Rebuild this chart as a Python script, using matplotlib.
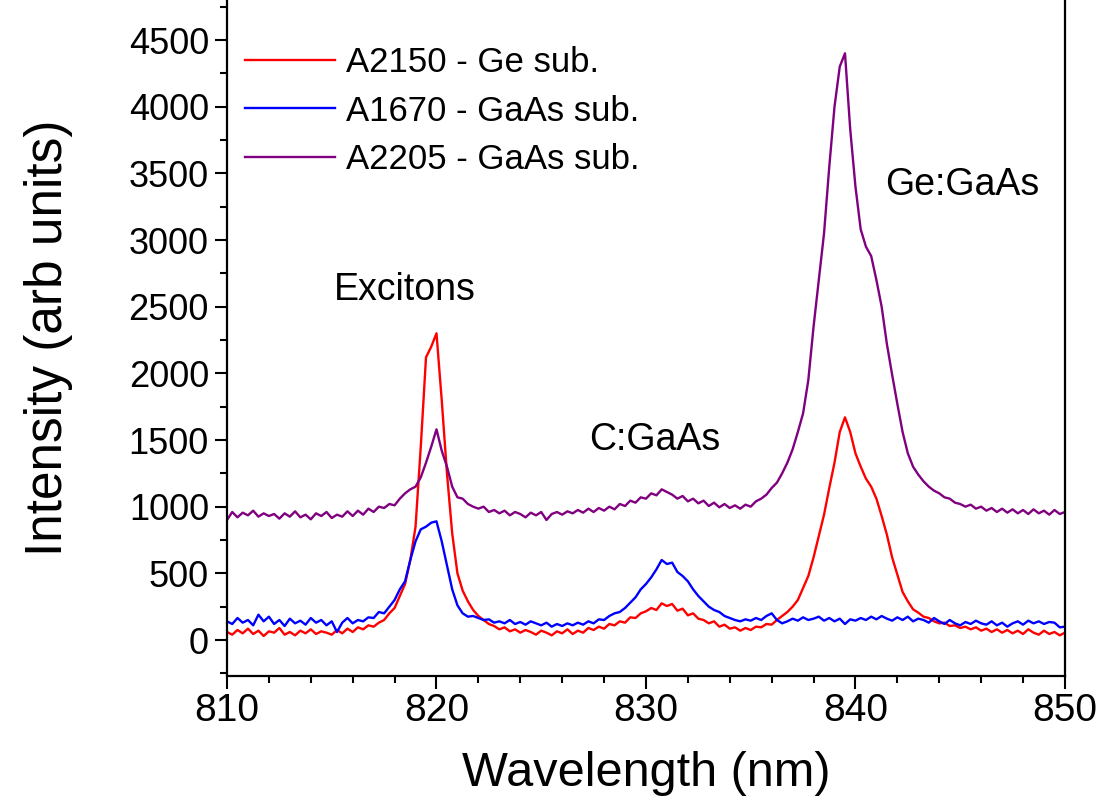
import numpy as np
import matplotlib
matplotlib.use('Agg')
import matplotlib.pyplot as plt
from matplotlib.ticker import MultipleLocator

plt.rcParams['font.family'] = ['Liberation Sans', 'DejaVu Sans']

# wavelength grid of the read-off samples (810 to 850 nm, every 0.25 nm)
wavelength = np.linspace(810, 850, 161)

# A2150 - Ge sub. (red)
a2150 = [60, 40, 75, 50, 85, 45, 70, 30, 65, 55, 90, 40, 60, 35, 70, 50,
         80, 45, 65, 55, 40, 75, 50, 85, 60, 95, 80, 110, 100, 130, 150, 200,
         240, 330, 420, 600, 850, 1450, 2120, 2200, 2300, 1800, 1250, 800, 500, 370,
         290, 225, 180, 150, 120, 105, 80, 95, 65, 80, 55, 75, 60, 40, 70, 55,
         35, 65, 50, 80, 45, 70, 55, 90, 75, 100, 85, 120, 110, 140, 130, 170,
         165, 200, 215, 240, 225, 275, 255, 270, 220, 235, 185, 200, 160, 150, 125, 140,
         100, 115, 85, 95, 70, 90, 75, 100, 95, 120, 115, 150, 180, 210, 250, 300,
         390, 480, 620, 780, 940, 1140, 1330, 1560, 1670, 1560, 1400, 1300, 1210, 1150, 1060, 930,
         790, 620, 490, 360, 290, 230, 205, 175, 165, 140, 125, 130, 105, 110, 90, 100,
         80, 95, 70, 85, 60, 80, 55, 75, 50, 70, 45, 80, 55, 40, 70, 45,
         60, 35, 55]

# A1670 - GaAs sub. (blue)
a1670 = [140, 120, 165, 130, 150, 110, 190, 140, 175, 120, 150, 105, 160, 125, 145, 115,
         165, 130, 150, 110, 140, 60, 130, 165, 125, 150, 140, 170, 165, 210, 200, 250,
         300, 380, 440, 600, 740, 830, 850, 880, 890, 740, 560, 380, 260, 200,
         175, 180, 165, 150, 155, 130, 140, 125, 150, 120, 135, 115, 140, 125, 110, 130,
         100, 120, 105, 125, 110, 130, 115, 140, 125, 155, 150, 180, 200, 210, 240, 280,
         320, 380, 420, 470, 530, 600, 570, 580, 510, 480, 440, 380, 330, 290, 250, 225,
         210, 180, 165, 150, 140, 155, 145, 165, 150, 180, 200, 150, 125, 140, 160, 145,
         170, 150, 160, 175, 145, 165, 140, 160, 120, 155, 145, 165, 150, 175, 155, 180,
         160, 145, 170, 150, 175, 140, 160, 150, 130, 165, 140, 120, 150, 125, 110, 135,
         120, 145, 125, 115, 140, 110, 130, 100, 125, 140, 115, 145, 125, 140, 120, 135,
         130, 95, 100]

# A2205 - GaAs sub. (purple)
a2205 = [900, 960, 920, 955, 935, 970, 925, 950, 930, 945, 910, 950, 925, 965, 920, 940,
         905, 950, 930, 960, 915, 940, 925, 965, 930, 970, 940, 985, 960, 1000, 990, 1020,
         1010, 1060, 1100, 1130, 1150, 1220, 1330, 1450, 1580, 1420, 1300, 1150, 1070, 1060,
         1020, 1000, 985, 1000, 960, 975, 950, 970, 935, 960, 945, 920, 955, 935, 960, 900,
         945, 960, 940, 965, 950, 975, 955, 985, 960, 990, 970, 1000, 980, 1020, 1005, 1045,
         1030, 1070, 1060, 1100, 1085, 1130, 1110, 1090, 1060, 1080, 1040, 1060, 1025, 1045, 1005, 1030,
         995, 1020, 990, 1010, 985, 1015, 1000, 1040, 1060, 1090, 1140, 1180, 1250, 1330, 1430, 1560,
         1700, 1950, 2350, 2700, 3050, 3550, 4000, 4300, 4400, 3830, 3400, 3080, 2950, 2880, 2700, 2500,
         2220, 1990, 1770, 1560, 1400, 1300, 1240, 1190, 1150, 1120, 1100, 1070, 1060, 1030, 1020, 1000,
         1015, 985, 1000, 970, 990, 960, 985, 955, 980, 950, 975, 945, 980, 950, 970, 940,
         975, 945, 960]

labels = ['A2150 - Ge sub.', 'A1670 - GaAs sub.', 'A2205 - GaAs sub.']
colors = ['#ff0000', '#0000ff', '#800080']

fig = plt.figure(figsize=(11.03, 8.09), dpi=100)
ax = fig.add_axes([0.2058, 0.1644, 0.7597, 0.8356])

for y, lab, c in zip([a2150, a1670, a2205], labels, colors):
    ax.plot(wavelength, y, color=c, lw=1.7, label=lab)

ax.set_xlim(810, 850)
ax.set_ylim(-270, 4800)
ax.xaxis.set_major_locator(MultipleLocator(10))
ax.xaxis.set_minor_locator(MultipleLocator(2))
ax.yaxis.set_major_locator(MultipleLocator(500))
ax.yaxis.set_minor_locator(MultipleLocator(250))
ax.tick_params(which='both', direction='out', width=1.5, right=False, top=False)
ax.tick_params(which='major', length=9)
ax.tick_params(which='minor', length=5)
ax.tick_params(axis='y', labelsize=26, pad=4)
ax.tick_params(axis='x', labelsize=28, pad=3)
ax.spines['top'].set_visible(False)
for s in ['left', 'bottom', 'right']:
    ax.spines[s].set_linewidth(1.6)

ax.set_xlabel('Wavelength (nm)', fontsize=35, labelpad=16)
ax.set_ylabel('Intensity (arb units)', fontsize=37, labelpad=40)

ax.text(818.5, 2625, 'Excitons', fontsize=27, ha='center', va='center')
ax.text(830.4, 1500, 'C:GaAs', fontsize=27, ha='center', va='center')
ax.text(845.1, 3413, 'Ge:GaAs', fontsize=27, ha='center', va='center')

ax.legend(loc='upper left', bbox_to_anchor=(18 / 838, 1 - 46 / 676), frameon=False,
          fontsize=25, handlelength=2.6, handletextpad=0.3, labelspacing=0.45,
          borderpad=0, borderaxespad=0)

fig.savefig('out.png', dpi=100)
